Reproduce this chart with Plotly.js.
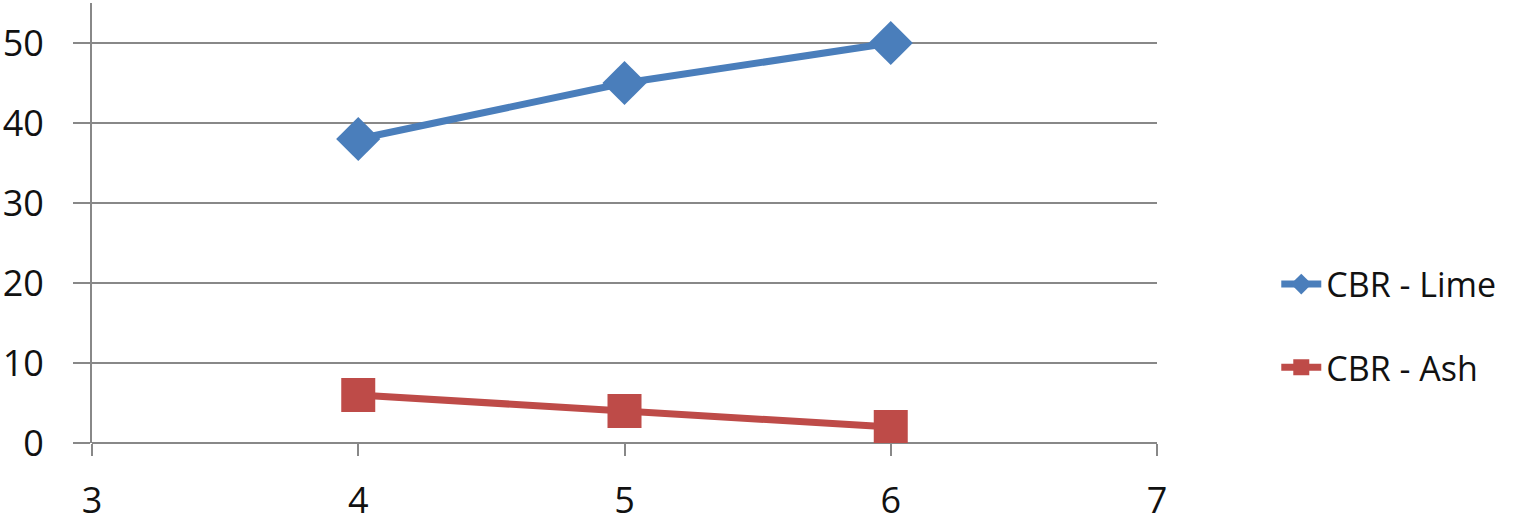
<!DOCTYPE html>
<html><head><meta charset="utf-8">
<script src="https://cdn.plot.ly/plotly-3.0.1.min.js"></script>
<style>html,body{margin:0;padding:0;background:#fff;}</style>
</head><body>
<div id="chart" style="width:1539px;height:527px;"></div>
<script>
const xValues = [4, 5, 6];
const limeValues = [38, 45, 50];
const ashValues = [6, 4, 2];
const seriesNames = ["CBR - Lime", "CBR - Ash"];
const xTicks = [3, 4, 5, 6, 7];
const yTicks = [0, 10, 20, 30, 40, 50];

const font = "'Open Sans', 'Noto Sans', sans-serif";
const traces = [
  {x: xValues, y: limeValues, name: seriesNames[0], mode: "lines+markers", legendgroup: "a",
   line: {color: "#4A7EBB", width: 7},
   marker: {symbol: "diamond", size: 34, color: "#4A7EBB", line: {color: "#4A7EBB", width: 0}}},
  {x: xValues, y: ashValues, name: seriesNames[1], mode: "lines+markers", legendgroup: "b",
   line: {color: "#BE4B48", width: 7},
   marker: {symbol: "square", size: 34, color: "#BE4B48", line: {color: "#BE4B48", width: 0}}}
];
const layout = {
  width: 1539, height: 527,
  margin: {l: 92, r: 382, t: 3, b: 84},
  paper_bgcolor: "#fff", plot_bgcolor: "#fff",
  showlegend: true,
  legend: {x: 1.112, y: 0.266, xanchor: "left", yanchor: "middle",
           font: {family: font, size: 34, color: "#111"}, tracegroupgap: 36,
           itemwidth: 40, traceorder: "grouped"},
  xaxis: {range: [3, 7], tickvals: xTicks, ticktext: xTicks.map(String),
          showgrid: false, zeroline: false, showline: false,
          ticks: "outside", ticklen: 12, tickwidth: 2, tickcolor: "#888",
          tickfont: {family: font, size: 36, color: "#111"}, ticklabelstandoff: 14},
  yaxis: {range: [0, 55], tickvals: yTicks, ticktext: yTicks.map(String),
          showgrid: true, gridcolor: "#888", gridwidth: 2,
          zeroline: true, zerolinecolor: "#888", zerolinewidth: 2,
          showline: true, linecolor: "#888", linewidth: 2,
          ticks: "outside", ticklen: 17, tickwidth: 2, tickcolor: "#888",
          tickfont: {family: font, size: 36, color: "#111"}, ticklabelstandoff: 22}
};
Plotly.newPlot("chart", traces, layout, {displayModeBar: false, staticPlot: true});
</script>
</body></html>
